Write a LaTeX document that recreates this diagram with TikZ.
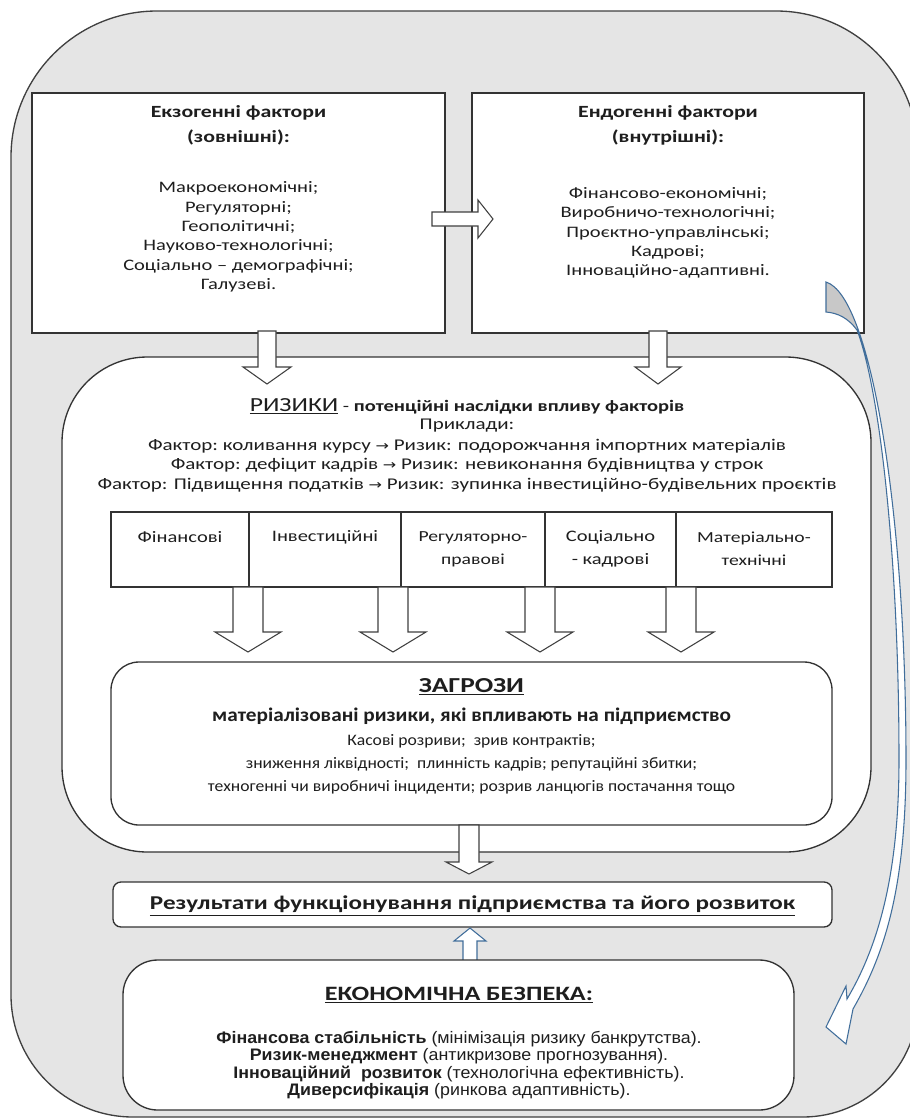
\documentclass[tikz,border=0pt]{standalone}
\usepackage{fontspec}
\setmainfont{Carlito}[FakeStretch=1.28]
\newfontfamily\condfont{Carlito}[FakeStretch=1.1]
\newfontfamily\narrowfont{Liberation Sans}[FakeStretch=1.07]
\newfontfamily\symfont{DejaVu Sans}[FakeStretch=1.2]
\definecolor{bggray}{RGB}{229,229,229}
\definecolor{arrgray}{RGB}{200,200,200}
\definecolor{arrblue}{RGB}{65,110,155}
\definecolor{txt}{RGB}{30,30,30}
\tikzset{
 box/.style={draw=black!80, line width=1pt, fill=white, inner sep=0pt},
 blockarr/.style={draw=black!75, line width=0.8pt, fill=white, line join=miter},
 bluearr/.style={draw=arrblue, line width=0.8pt, fill=white, line join=miter},
 lbl/.style={align=center, text=txt, inner sep=0pt, font=\fontsize{12}{14.5}\selectfont},
}
% #1 style, #2 x, #3 y start, #4 y head base, #5 y tip, #6 shaft half, #7 head half
\newcommand\vblock[7][blockarr]{\draw[#1] (#2-#6,#3) -- (#2-#6,#4) -- (#2-#7,#4) -- (#2,#5) -- (#2+#7,#4) -- (#2+#6,#4) -- (#2+#6,#3) -- cycle;}
\newcommand\rarr{{\symfont\fontsize{10}{12}\selectfont→}}
\begin{document}
\begin{tikzpicture}[x=0.75pt,y=-0.75pt]
\useasboundingbox (0,0) rectangle (910,1118);
% outer background shape
\path[fill=bggray, draw=black!75, line width=1pt] (11,157) arc[start angle=180,end angle=90,radius=109.5pt] -- (776,11) arc[start angle=90,end angle=0,radius=106.5pt] -- (918,1002) arc[start angle=0,end angle=-90,radius=86.25pt] -- (133,1117) arc[start angle=-90,end angle=-180,radius=91.5pt] -- cycle;

% top boxes
\node[box, minimum width=309.75pt, minimum height=180pt] (exo) at (238.5,213) {};
\node[box, minimum width=294pt, minimum height=180pt] (endo) at (668,213) {};
\node[lbl, font=\bfseries\fontsize{12.8}{18.75}\selectfont] (exoT) at (238.5,125) {Екзогенні фактори\\(зовнішні):};
\node[lbl] (exoI) at (238.5,237) {Макроекономічні;\\Регуляторні;\\Геополітичні;\\Науково-технологічні;\\Соціально – демографічні;\\Галузеві.};
\node[lbl, font=\bfseries\fontsize{12.8}{18.75}\selectfont] (endoT) at (668,125) {Ендогенні фактори\\(внутрішні):};
\node[lbl] (endoI) at (668,233) {Фінансово-економічні;\\Виробничо-технологічні;\\Проєктно-управлінські;\\Кадрові;\\Інноваційно-адаптивні.};

% right block arrow between top boxes
\draw[blockarr] (432,212) -- (478,212) -- (478,200) -- (493,219) -- (478,238) -- (478,226) -- (432,226) -- cycle;

% risks box
\node[box, rounded corners=64pt, minimum width=606.75pt, minimum height=371.25pt] (risks) at (466.5,604.5) {};
\vblock{267}{331}{367}{384}{9}{24}
\vblock{658}{331}{367}{384}{9}{23}

\node[lbl, anchor=base] (rT) at (467,411) {{\fontsize{15}{18}\selectfont\underline{РИЗИКИ}} - {\bfseries потенційні наслідки впливу факторів}};
\node[lbl, font=\fontsize{12.3}{14.5}\selectfont] (rP) at (467,426) {Приклади:};
\node[lbl, font=\fontsize{12.3}{14.5}\selectfont] (r1) at (467,446) {Фактор:\ коливання курсу \rarr\ Ризик: подорожчання імпортних матеріалів};
\node[lbl, font=\fontsize{12.3}{14.5}\selectfont] (r2) at (467,465.5) {Фактор:\ дефіцит кадрів \rarr\ Ризик: невиконання будівництва\ у строк};
\node[lbl, font=\fontsize{12.3}{14.5}\selectfont] (r3) at (467,485) {Фактор: Підвищення податків \rarr\ Ризик: зупинка інвестиційно-будівельних проєктів};

% category row
\node[box, minimum width=103.5pt, minimum height=56.25pt] (c1) at (180,549.5) {};
\node[box, minimum width=114pt, minimum height=56.25pt] (c2) at (325,549.5) {};
\node[box, minimum width=108pt, minimum height=56.25pt] (c3) at (473,549.5) {};
\node[box, minimum width=98.25pt, minimum height=56.25pt] (c4) at (610.5,549.5) {};
\node[box, minimum width=117pt, minimum height=56.25pt] (c5) at (754,549.5) {};
\node[lbl] (c1t) at (180,537) {Фінансові};
\node[lbl] (c2t) at (325,537) {Інвестиційні};
\node[lbl, font=\fontsize{11.5}{17.5}\selectfont] (c3t) at (473,549) {Регуляторно-\\правові};
\node[lbl, font=\fontsize{12}{17.5}\selectfont] (c4t) at (610.5,549) {Соціально\\- кадрові};
\node[lbl, font=\fontsize{11.5}{17.5}\selectfont] (c5t) at (754,549) {Матеріально-\\технічні};

\vblock{248}{587}{632}{652}{15}{33}
\vblock{393}{587}{632}{652}{15}{33}
\vblock{540}{587}{632}{652}{15}{33}
\vblock{681}{587}{632}{652}{15}{33}

% threats box
\node[box, rounded corners=21pt, minimum width=540.75pt, minimum height=122.25pt] (thr) at (471.5,743.5) {};
\node[lbl, font=\bfseries\fontsize{16}{18}\selectfont] (thT) at (471.5,687) {\underline{ЗАГРОЗИ}};
\node[lbl, font=\condfont\bfseries\fontsize{14.5}{16}\selectfont] (thS) at (471.5,716) {матеріалізовані\ ризики, які впливають на підприємство};
\node[lbl, font=\condfont\fontsize{12}{17.25}\selectfont] (thL) at (471.5,764) {Касові розриви;\ \ зрив контрактів;\\зниження ліквідності;\ \ плинність кадрів; репутаційні збитки;\\техногенні чи виробничі інциденти; розрив ланцюгів постачання тощо};

% threats -> results
\vblock{469}{825}{862}{874}{10}{23}

% results box
\node[box, rounded corners=6pt, minimum width=539.25pt, minimum height=33.75pt] (res) at (472.5,904.5) {};
\node[lbl, font=\bfseries\fontsize{14.7}{18}\selectfont] (resT) at (472.5,906) {\underline{Результати функціонування підприємства та його розвиток}};

% econ -> results (blue up arrow)
\vblock[bluearr]{470}{962}{941}{928}{7}{16}

% econ box
\node[box, rounded corners=26pt, minimum width=503.25pt, minimum height=112.5pt] (eco) at (458.5,1035) {};
\node[lbl, font=\bfseries\fontsize{15.3}{19}\selectfont] (ecoT) at (459,995) {\underline{ЕКОНОМІЧНА БЕЗПЕКА:}};
\node[lbl, font=\narrowfont\fontsize{12.5}{13}\selectfont] (ecoL) at (459,1065) {{\bfseries Фінансова стабільність} (мінімізація ризику банкрутства).\\{\bfseries Ризик-менеджмент} (антикризове прогнозування).\\{\bfseries Інноваційний\ \ розвиток} (технологічна ефективність).\\{\bfseries Диверсифікація} (ринкова адаптивність).};

% curved arrow
\def\curvepath{(826,282) .. controls (872,296) and (906,520) .. (906,760) .. controls (906,890) and (884,955) .. (853,1009) -- (846,1044) -- (826,1027) -- (846,986) -- (847,999) .. controls (876,950) and (899,880) .. (899,760) .. controls (899,560) and (880,390) .. (857,330) .. controls (848,318) and (838,313) .. (826,312) -- cycle}
\fill[white] \curvepath;
\begin{scope}
\clip (800,270) rectangle (915,360);
\fill[arrgray] \curvepath;
\end{scope}
\draw[arrblue, line width=0.8pt, line join=miter] \curvepath;
\coordinate (cstart) at (826,297);
\coordinate (ctip) at (826,1027);
\end{tikzpicture}
\end{document}
